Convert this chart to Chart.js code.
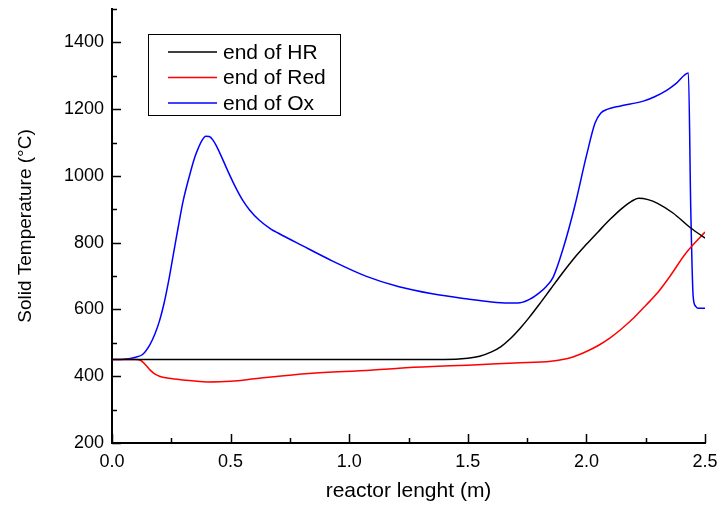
<!DOCTYPE html>
<html lang="en">
<head>
    <meta charset="UTF-8">
    <title>Solid Temperature</title>
    <script src="https://cdn.jsdelivr.net/npm/chart.js"></script>
    <style>
        html, body { margin: 0; padding: 0; background: #fff; }
        .container { width: 719px; height: 507px; }
    </style>
</head>
<body>
<div class="container">
    <canvas id="tempChart" width="719" height="507"></canvas>
</div>

<script>
    // valori
    const hrX  = [0, 0.5, 1.0, 1.4, 1.5, 1.55, 1.6, 1.64, 1.68, 1.72, 1.76, 1.8, 1.85, 1.9, 1.95, 2.0, 2.05, 2.1, 2.15, 2.19, 2.22, 2.26, 2.3, 2.365, 2.44, 2.5];
    const hrY  = [450, 450, 450, 450, 454, 460, 473, 489, 513, 543, 577, 614, 662, 710, 755, 795, 833, 870, 903, 924, 933, 929, 918, 889, 844, 814];

    const redX = [0, 0.1, 0.12, 0.14, 0.16, 0.18, 0.2, 0.24, 0.3, 0.4, 0.5, 0.62, 0.83, 1.09, 1.21, 1.35, 1.5, 1.7, 1.85, 1.94, 2.0, 2.05, 2.1, 2.15, 2.2, 2.25, 2.3, 2.35, 2.42, 2.5];
    const redY = [450, 450, 448, 435, 419, 407, 400, 394, 389, 383, 385, 394, 408, 418, 424, 429, 433, 440, 445, 457, 474, 492, 515, 543, 575, 612, 650, 697, 769, 832];

    const oxX  = [0, 0.05, 0.1, 0.13, 0.16, 0.18, 0.2, 0.22, 0.24, 0.26, 0.28, 0.3, 0.325, 0.35, 0.365, 0.38, 0.395, 0.41, 0.425, 0.44, 0.46, 0.49, 0.52, 0.55, 0.58, 0.62, 0.67, 0.7, 0.8, 0.93, 1.07, 1.21, 1.35, 1.5, 1.6, 1.67, 1.72, 1.76, 1.8, 1.83, 1.86, 1.9, 1.95, 2.0, 2.036, 2.06, 2.09, 2.14, 2.24, 2.29, 2.34, 2.38, 2.43, 2.44, 2.45, 2.46, 2.47, 2.5];
    const oxY  = [450, 451, 457, 466, 495, 525, 565, 620, 690, 770, 850, 925, 996, 1058, 1085, 1107, 1119, 1118, 1108, 1090, 1060, 1012, 967, 928, 898, 868, 841, 829, 792, 745, 700, 668, 647, 631, 622, 619, 620, 630, 649, 668, 697, 778, 907, 1060, 1158, 1188, 1200, 1209, 1224, 1238, 1257, 1278, 1308, 900, 640, 610, 604, 604];

    const seriesLabels = ["end of HR", "end of Red", "end of Ox"];
    const seriesColors = ["#000000", "#ff0000", "#0000ff"];

    const yTicks = [200, 400, 600, 800, 1000, 1200, 1400];
    const xTicks = [0, 0.5, 1.0, 1.5, 2.0, 2.5];

    function toPoints(xs, ys) {
        return xs.map((x, i) => ({ x: x, y: ys[i] }));
    }

    // tacche interne (maggiori e minori)
    const innerTicks = {
        id: 'innerTicks',
        afterDraw(chart) {
            const ctx = chart.ctx;
            const xs = chart.scales.x, ys = chart.scales.y;
            const a = chart.chartArea;
            ctx.save();
            ctx.strokeStyle = '#000';
            ctx.lineWidth = 1.5;
            ctx.beginPath();
            for (let v = 0; v <= 2.5001; v += 0.25) {
                const px = Math.round(xs.getPixelForValue(v)) + 0.5;
                const major = Math.abs(v * 2 - Math.round(v * 2)) < 1e-6;
                ctx.moveTo(px, a.bottom);
                ctx.lineTo(px, a.bottom - (major ? 9 : 5));
            }
            for (let v = 200; v <= 1500; v += 100) {
                const py = Math.round(ys.getPixelForValue(v)) + 0.5;
                const major = v % 200 === 0;
                ctx.moveTo(a.left, py);
                ctx.lineTo(a.left + (major ? 9 : 5), py);
            }
            ctx.stroke();
            ctx.restore();
        }
    };

    // legenda dentro l'area del grafico
    const boxLegend = {
        id: 'boxLegend',
        afterDraw(chart) {
            const ctx = chart.ctx;
            const a = chart.chartArea;
            const bx = a.left + 36, by = a.top + 25, bw = 192, bh = 81;
            ctx.save();
            ctx.fillStyle = '#fff';
            ctx.fillRect(bx, by, bw, bh);
            ctx.strokeStyle = '#000';
            ctx.lineWidth = 1;
            ctx.strokeRect(bx + 0.5, by + 0.5, bw, bh);
            ctx.font = '21px "Liberation Sans", Arial, sans-serif';
            ctx.textBaseline = 'middle';
            ctx.fillStyle = '#000';
            chart.data.datasets.forEach((ds, i) => {
                const y = by + 18 + i * 25.5;
                ctx.strokeStyle = ds.borderColor;
                ctx.lineWidth = 1.5;
                ctx.beginPath();
                ctx.moveTo(bx + 20, y);
                ctx.lineTo(bx + 69, y);
                ctx.stroke();
                ctx.fillText(ds.label, bx + 75, y + 1);
            });
            ctx.restore();
        }
    };

    const tickFont = { family: '"Liberation Sans", Arial, sans-serif', size: 18 };

    const ctx = document.getElementById('tempChart').getContext('2d');
    const chart = new Chart(ctx, {
        type: 'line',
        data: {
            datasets: [
                { label: seriesLabels[0], data: toPoints(hrX, hrY), borderColor: seriesColors[0] },
                { label: seriesLabels[1], data: toPoints(redX, redY), borderColor: seriesColors[1] },
                { label: seriesLabels[2], data: toPoints(oxX, oxY), borderColor: seriesColors[2] }
            ].map(d => Object.assign(d, {
                borderWidth: 1.5,
                pointRadius: 0,
                fill: false,
                cubicInterpolationMode: 'monotone'
            }))
        },
        options: {
            responsive: false,
            animation: false,
            layout: { padding: { top: 9, right: 14, left: 0, bottom: 0 } },
            plugins: {
                legend: { display: false },
                tooltip: { enabled: false }
            },
            scales: {
                x: {
                    type: 'linear',
                    min: 0,
                    max: 2.5,
                    afterFit: s => { s.height = 64; s.paddingLeft = 0; s.paddingRight = 0; },
                    afterBuildTicks: s => { s.ticks = xTicks.map(v => ({ value: v })); },
                    grid: { display: false, drawTicks: false },
                    border: { display: true, color: '#000', width: 2 },
                    ticks: {
                        color: '#000',
                        font: tickFont,
                        padding: 8,
                        maxRotation: 0,
                        callback: v => Number(v).toFixed(1)
                    },
                    title: {
                        display: true,
                        text: 'reactor lenght (m)',
                        color: '#000',
                        font: { family: '"Liberation Sans", Arial, sans-serif', size: 21 },
                        padding: { top: 0, bottom: 3 }
                    }
                },
                y: {
                    type: 'linear',
                    min: 200,
                    max: 1500,
                    afterFit: s => { s.width = 112; s.paddingTop = 0; s.paddingBottom = 0; },
                    afterBuildTicks: s => { s.ticks = yTicks.map(v => ({ value: v })); },
                    grid: { display: false, drawTicks: false },
                    border: { display: true, color: '#000', width: 2 },
                    ticks: {
                        color: '#000',
                        font: tickFont,
                        padding: 8,
                        callback: v => String(v)
                    },
                    title: {
                        display: true,
                        text: 'Solid Temperature (°C)',
                        color: '#000',
                        font: { family: '"Liberation Sans", Arial, sans-serif', size: 19 },
                        padding: { top: 14, bottom: 0 }
                    }
                }
            }
        },
        plugins: [innerTicks, boxLegend]
    });
</script>
</body>
</html>
